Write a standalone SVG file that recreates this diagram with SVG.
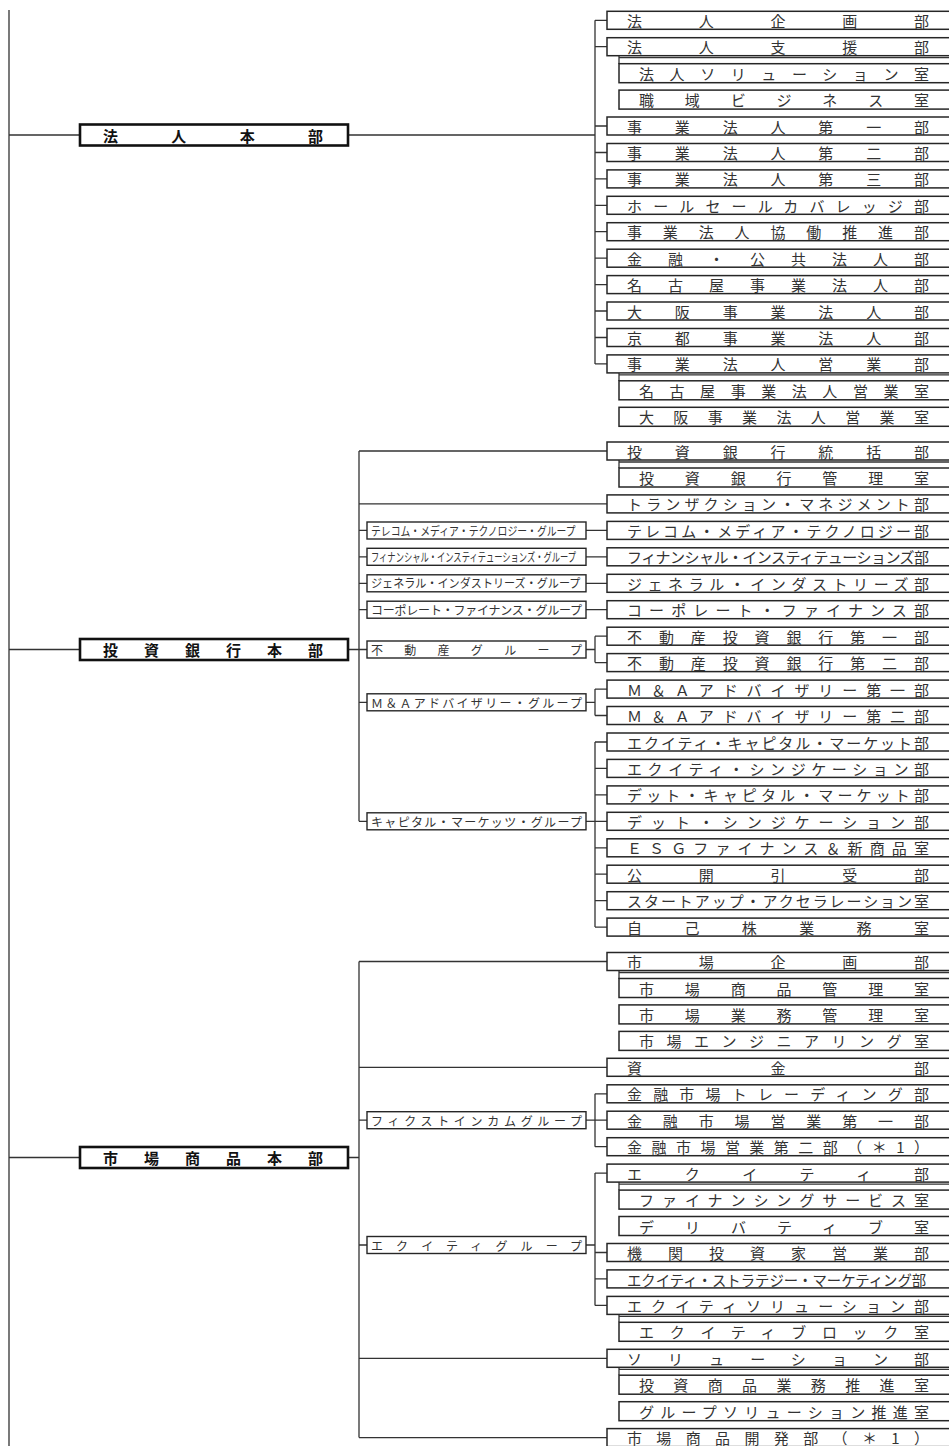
<svg xmlns="http://www.w3.org/2000/svg" width="949" height="1446" viewBox="0 0 949 1446">
<style>
.ln{stroke:#333;stroke-width:1.3;fill:none}
.bx{fill:#fff;stroke:#262626;stroke-width:1.5}
.tp{fill:#fff;stroke:#111;stroke-width:2.6}
.gb{fill:#fff;stroke:#262626;stroke-width:1.4}
.d{font-family:"Noto Sans CJK JP","Noto Sans CJK SC",sans-serif;font-size:15px;fill:#333;dominant-baseline:central}
.g{font-family:"Noto Sans CJK JP","Noto Sans CJK SC",sans-serif;font-size:12px;fill:#333;dominant-baseline:central}
.h{font-family:"Noto Sans CJK JP","Noto Sans CJK SC",sans-serif;font-size:15px;font-weight:bold;fill:#111;dominant-baseline:central}
</style>
<rect width="949" height="1446" fill="#fff"/>
<g id="connectors" class="ln">
<path d="M9 10V1446M9 135H80M9 649.5H80M9 1157.5H80"/>
<path d="M348 135H595M595 20.3V363.9M595 20.3H607M595 46.7H607M595 126H607M595 152.5H607M595 178.9H607M595 205.3H607M595 231.7H607M595 258.2H607M595 284.6H607M595 311H607M595 337.5H607M595 363.9H607"/>
<path d="M619 55.7V64M619 57.7H960M619 372.9V381M619 374.9H960"/>
<path d="M348 649.5H359M359 451V821.3M359 451H607M359 503.9H607M359 530.4H367M359 556.8H367M359 583.3H367M359 609.7H367M359 649.5H367M359 702.3H367M359 821.3H367M586 530.4H607M586 556.8H607M586 583.3H607M586 609.7H607M586 649.5H595M595 636.2V662.6M595 636.2H607M595 662.6H607M586 702.3H595M595 689.1V715.5M595 689.1H607M595 715.5H607M586 821.3H595M595 742V927.1M595 742H607M595 768.4H607M595 794.9H607M595 821.3H607M595 847.8H607M595 874.2H607M595 900.7H607M595 927.1H607"/>
<path d="M619 460V468M619 462H960"/>
<path d="M348 1157.5H359M359 961.5V1437.6M359 961.5H607M359 1067.3H607M359 1358.3H607M359 1437.6H607M359 1120.2H367M586 1120.2H595M595 1093.8V1146.7M595 1093.8H607M595 1120.2H607M595 1146.7H607M359 1245H367M586 1245H595M595 1173.1V1305.4M595 1173.1H607M595 1252.5H607M595 1278.9H607M595 1305.4H607"/>
<path d="M619 970.5V979M619 972.5H960M619 1182.1V1190M619 1184.1H960M619 1314.4V1322M619 1316.4H960M619 1367.3V1375M619 1369.3H960"/>
</g>
<g id="hq-hojin"><rect class="tp" x="80" y="124.5" width="268" height="21"/><text class="h" x="103" y="135" textLength="220" lengthAdjust="spacing">法人本部</text></g>
<g id="hq-ib"><rect class="tp" x="80" y="639" width="268" height="21"/><text class="h" x="103" y="649.5" textLength="220" lengthAdjust="spacing">投資銀行本部</text></g>
<g id="hq-mkt"><rect class="tp" x="80" y="1147" width="268" height="21"/><text class="h" x="103" y="1157.5" textLength="220" lengthAdjust="spacing">市場商品本部</text></g>

<g id="d1"><rect class="bx" x="607" y="11.3" width="350" height="18"/><text class="d" x="627" y="20.3" textLength="302" lengthAdjust="spacing">法人企画部</text></g>
<g id="d2"><rect class="bx" x="607" y="37.7" width="350" height="18"/><text class="d" x="627" y="46.7" textLength="302" lengthAdjust="spacing">法人支援部</text></g>
<g id="s2a"><rect class="bx" x="619" y="63.7" width="340" height="19"/><text class="d" x="639" y="73.2" textLength="290" lengthAdjust="spacing">法人ソリューション室</text></g>
<g id="s2b"><rect class="bx" x="619" y="90.1" width="340" height="19"/><text class="d" x="639" y="99.6" textLength="290" lengthAdjust="spacing">職域ビジネス室</text></g>
<g id="d3"><rect class="bx" x="607" y="117" width="350" height="18"/><text class="d" x="627" y="126" textLength="302" lengthAdjust="spacing">事業法人第一部</text></g>
<g id="d4"><rect class="bx" x="607" y="143.5" width="350" height="18"/><text class="d" x="627" y="152.5" textLength="302" lengthAdjust="spacing">事業法人第二部</text></g>
<g id="d5"><rect class="bx" x="607" y="169.9" width="350" height="18"/><text class="d" x="627" y="178.9" textLength="302" lengthAdjust="spacing">事業法人第三部</text></g>
<g id="d6"><rect class="bx" x="607" y="196.3" width="350" height="18"/><text class="d" x="627" y="205.3" textLength="302" lengthAdjust="spacing">ホールセールカバレッジ部</text></g>
<g id="d7"><rect class="bx" x="607" y="222.7" width="350" height="18"/><text class="d" x="627" y="231.7" textLength="302" lengthAdjust="spacing">事業法人協働推進部</text></g>
<g id="d8"><rect class="bx" x="607" y="249.2" width="350" height="18"/><text class="d" x="627" y="258.2" textLength="302" lengthAdjust="spacing">金融・公共法人部</text></g>
<g id="d9"><rect class="bx" x="607" y="275.6" width="350" height="18"/><text class="d" x="627" y="284.6" textLength="302" lengthAdjust="spacing">名古屋事業法人部</text></g>
<g id="d10"><rect class="bx" x="607" y="302" width="350" height="18"/><text class="d" x="627" y="311" textLength="302" lengthAdjust="spacing">大阪事業法人部</text></g>
<g id="d11"><rect class="bx" x="607" y="328.5" width="350" height="18"/><text class="d" x="627" y="337.5" textLength="302" lengthAdjust="spacing">京都事業法人部</text></g>
<g id="d12"><rect class="bx" x="607" y="354.9" width="350" height="18"/><text class="d" x="627" y="363.9" textLength="302" lengthAdjust="spacing">事業法人営業部</text></g>
<g id="s12a"><rect class="bx" x="619" y="380.8" width="340" height="19"/><text class="d" x="639" y="390.3" textLength="290" lengthAdjust="spacing">名古屋事業法人営業室</text></g>
<g id="s12b"><rect class="bx" x="619" y="407.3" width="340" height="19"/><text class="d" x="639" y="416.8" textLength="290" lengthAdjust="spacing">大阪事業法人営業室</text></g>

<g id="e1"><rect class="bx" x="607" y="442" width="350" height="18"/><text class="d" x="627" y="451" textLength="302" lengthAdjust="spacing">投資銀行統括部</text></g>
<g id="e1a"><rect class="bx" x="619" y="468" width="340" height="19"/><text class="d" x="639" y="477.5" textLength="290" lengthAdjust="spacing">投資銀行管理室</text></g>
<g id="e2"><rect class="bx" x="607" y="494.9" width="350" height="18"/><text class="d" x="627" y="503.9" textLength="302" lengthAdjust="spacing">トランザクション・マネジメント部</text></g>
<g id="g1"><rect class="gb" x="367" y="522" width="219" height="17"/><text class="g" transform="translate(371 530.4) scale(0.82 1)">テレコム・メディア・テクノロジー・グループ</text></g>
<g id="e3"><rect class="bx" x="607" y="521.4" width="350" height="18"/><text class="d" x="627" y="530.4" textLength="302" lengthAdjust="spacing">テレコム・メディア・テクノロジー部</text></g>
<g id="g2"><rect class="gb" x="367" y="548.3" width="219" height="17"/><text class="g" transform="translate(371 556.8) scale(0.69 1)">フィナンシャル・インスティテューションズ・グループ</text></g>
<g id="e4"><rect class="bx" x="607" y="547.8" width="350" height="18"/><text class="d" x="627" y="556.8" textLength="302" lengthAdjust="spacing">フィナンシャル・インスティテューションズ部</text></g>
<g id="g3"><rect class="gb" x="367" y="574.8" width="219" height="17"/><text class="g" transform="translate(371 583.3) scale(0.925 1)">ジェネラル・インダストリーズ・グループ</text></g>
<g id="e5"><rect class="bx" x="607" y="574.3" width="350" height="18"/><text class="d" x="627" y="583.3" textLength="302" lengthAdjust="spacing">ジェネラル・インダストリーズ部</text></g>
<g id="g4"><rect class="gb" x="367" y="601.2" width="219" height="17"/><text class="g" x="371" y="609.7" textLength="211" lengthAdjust="spacing">コーポレート・ファイナンス・グループ</text></g>
<g id="e6"><rect class="bx" x="607" y="600.7" width="350" height="18"/><text class="d" x="627" y="609.7" textLength="302" lengthAdjust="spacing">コーポレート・ファイナンス部</text></g>
<g id="g5"><rect class="gb" x="367" y="641" width="219" height="17"/><text class="g" x="371" y="649.5" textLength="211" lengthAdjust="spacing">不動産グループ</text></g>
<g id="e7"><rect class="bx" x="607" y="627.2" width="350" height="18"/><text class="d" x="627" y="636.2" textLength="302" lengthAdjust="spacing">不動産投資銀行第一部</text></g>
<g id="e8"><rect class="bx" x="607" y="653.6" width="350" height="18"/><text class="d" x="627" y="662.6" textLength="302" lengthAdjust="spacing">不動産投資銀行第二部</text></g>
<g id="g6"><rect class="gb" x="367" y="693.8" width="219" height="17"/><text class="g" x="371" y="702.3" textLength="211" lengthAdjust="spacing">Ｍ＆Ａアドバイザリー・グループ</text></g>
<g id="e9"><rect class="bx" x="607" y="680.1" width="350" height="18"/><text class="d" x="627" y="689.1" textLength="302" lengthAdjust="spacing">Ｍ＆Ａアドバイザリー第一部</text></g>
<g id="e10"><rect class="bx" x="607" y="706.5" width="350" height="18"/><text class="d" x="627" y="715.5" textLength="302" lengthAdjust="spacing">Ｍ＆Ａアドバイザリー第二部</text></g>
<g id="g7"><rect class="gb" x="367" y="812.8" width="219" height="17"/><text class="g" x="371" y="821.3" textLength="211" lengthAdjust="spacing">キャピタル・マーケッツ・グループ</text></g>
<g id="e11"><rect class="bx" x="607" y="733" width="350" height="18"/><text class="d" x="627" y="742" textLength="302" lengthAdjust="spacing">エクイティ・キャピタル・マーケット部</text></g>
<g id="e12"><rect class="bx" x="607" y="759.4" width="350" height="18"/><text class="d" x="627" y="768.4" textLength="302" lengthAdjust="spacing">エクイティ・シンジケーション部</text></g>
<g id="e13"><rect class="bx" x="607" y="785.9" width="350" height="18"/><text class="d" x="627" y="794.9" textLength="302" lengthAdjust="spacing">デット・キャピタル・マーケット部</text></g>
<g id="e14"><rect class="bx" x="607" y="812.3" width="350" height="18"/><text class="d" x="627" y="821.3" textLength="302" lengthAdjust="spacing">デット・シンジケーション部</text></g>
<g id="e15"><rect class="bx" x="607" y="838.8" width="350" height="18"/><text class="d" x="627" y="847.8" textLength="302" lengthAdjust="spacing">ＥＳＧファイナンス＆新商品室</text></g>
<g id="e16"><rect class="bx" x="607" y="865.2" width="350" height="18"/><text class="d" x="627" y="874.2" textLength="302" lengthAdjust="spacing">公開引受部</text></g>
<g id="e17"><rect class="bx" x="607" y="891.7" width="350" height="18"/><text class="d" x="627" y="900.7" textLength="302" lengthAdjust="spacing">スタートアップ・アクセラレーション室</text></g>
<g id="e18"><rect class="bx" x="607" y="918.1" width="350" height="18"/><text class="d" x="627" y="927.1" textLength="302" lengthAdjust="spacing">自己株業務室</text></g>

<g id="m1"><rect class="bx" x="607" y="952.5" width="350" height="18"/><text class="d" x="627" y="961.5" textLength="302" lengthAdjust="spacing">市場企画部</text></g>
<g id="m1a"><rect class="bx" x="619" y="978.5" width="340" height="19"/><text class="d" x="639" y="988" textLength="290" lengthAdjust="spacing">市場商品管理室</text></g>
<g id="m1b"><rect class="bx" x="619" y="1004.9" width="340" height="19"/><text class="d" x="639" y="1014.4" textLength="290" lengthAdjust="spacing">市場業務管理室</text></g>
<g id="m1c"><rect class="bx" x="619" y="1031.4" width="340" height="19"/><text class="d" x="639" y="1040.9" textLength="290" lengthAdjust="spacing">市場エンジニアリング室</text></g>
<g id="m2"><rect class="bx" x="607" y="1058.3" width="350" height="18"/><text class="d" x="627" y="1067.3" textLength="302" lengthAdjust="spacing">資金部</text></g>
<g id="gf"><rect class="gb" x="367" y="1111.7" width="219" height="17"/><text class="g" x="371" y="1120.2" textLength="211" lengthAdjust="spacing">フィクストインカムグループ</text></g>
<g id="m3"><rect class="bx" x="607" y="1084.8" width="350" height="18"/><text class="d" x="627" y="1093.8" textLength="302" lengthAdjust="spacing">金融市場トレーディング部</text></g>
<g id="m4"><rect class="bx" x="607" y="1111.2" width="350" height="18"/><text class="d" x="627" y="1120.2" textLength="302" lengthAdjust="spacing">金融市場営業第一部</text></g>
<g id="m5"><rect class="bx" x="607" y="1137.7" width="350" height="18"/><text class="d" x="627" y="1146.7" textLength="302" lengthAdjust="spacing">金融市場営業第二部（＊1）</text></g>
<g id="ge"><rect class="gb" x="367" y="1236.5" width="219" height="17"/><text class="g" x="371" y="1245" textLength="211" lengthAdjust="spacing">エクイティグループ</text></g>
<g id="m6"><rect class="bx" x="607" y="1164.1" width="350" height="18"/><text class="d" x="627" y="1173.1" textLength="302" lengthAdjust="spacing">エクイティ部</text></g>
<g id="m6a"><rect class="bx" x="619" y="1190.1" width="340" height="19"/><text class="d" x="639" y="1199.6" textLength="290" lengthAdjust="spacing">ファイナンシングサービス室</text></g>
<g id="m6b"><rect class="bx" x="619" y="1216.5" width="340" height="19"/><text class="d" x="639" y="1226" textLength="290" lengthAdjust="spacing">デリバティブ室</text></g>
<g id="m7"><rect class="bx" x="607" y="1243.5" width="350" height="18"/><text class="d" x="627" y="1252.5" textLength="302" lengthAdjust="spacing">機関投資家営業部</text></g>
<g id="m8"><rect class="bx" x="607" y="1269.9" width="350" height="18"/><text class="d" transform="translate(627 1278.9) scale(0.958 1)">エクイティ・ストラテジー・マーケティング部</text></g>
<g id="m9"><rect class="bx" x="607" y="1296.4" width="350" height="18"/><text class="d" x="627" y="1305.4" textLength="302" lengthAdjust="spacing">エクイティソリューション部</text></g>
<g id="m9a"><rect class="bx" x="619" y="1322.3" width="340" height="19"/><text class="d" x="639" y="1331.8" textLength="290" lengthAdjust="spacing">エクイティブロック室</text></g>
<g id="m10"><rect class="bx" x="607" y="1349.3" width="350" height="18"/><text class="d" x="627" y="1358.3" textLength="302" lengthAdjust="spacing">ソリューション部</text></g>
<g id="m10a"><rect class="bx" x="619" y="1375.2" width="340" height="19"/><text class="d" x="639" y="1384.7" textLength="290" lengthAdjust="spacing">投資商品業務推進室</text></g>
<g id="m10b"><rect class="bx" x="619" y="1401.7" width="340" height="19"/><text class="d" x="639" y="1411.2" textLength="290" lengthAdjust="spacing">グループソリューション推進室</text></g>
<g id="m11"><rect class="bx" x="607" y="1428.6" width="350" height="18"/><text class="d" x="627" y="1437.6" textLength="302" lengthAdjust="spacing">市場商品開発部（＊1）</text></g>
</svg>
